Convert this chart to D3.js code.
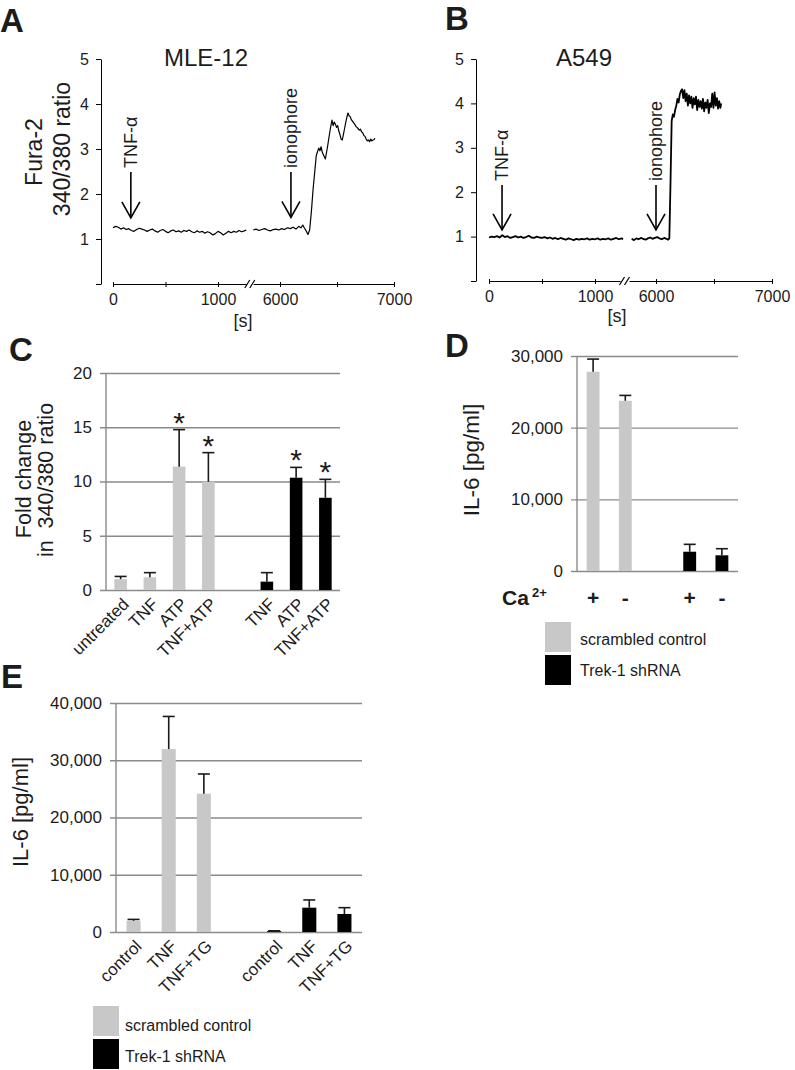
<!DOCTYPE html>
<html><head><meta charset="utf-8">
<script src="https://cdn.jsdelivr.net/npm/d3@7"></script>
<style>
body{margin:0;background:#fff}
svg{display:block;font-family:"Liberation Sans",Arial,Helvetica,sans-serif}
text{fill:#1c1c1c}
</style></head><body>
<svg id="fig" width="795" height="1070"></svg>
<script>
// ---------- DATA ----------
// Panel A (MLE-12) Fura-2 ratio trace: [time s, ratio]
const traceA1 = [[0,1.25],[25,1.28],[50,1.26],[75,1.22],[100,1.25],[125,1.21],[150,1.23],[175,1.19],[200,1.17],[225,1.21],[250,1.24],[275,1.22],[300,1.2],[325,1.17],[350,1.2],[375,1.22],[400,1.18],[425,1.15],[450,1.19],[475,1.21],[500,1.17],[525,1.14],[550,1.18],[575,1.2],[600,1.16],[625,1.18],[650,1.15],[675,1.19],[700,1.17],[725,1.2],[750,1.16],[775,1.14],[800,1.18],[825,1.15],[850,1.17],[875,1.13],[900,1.16],[925,1.14],[950,1.09],[975,1.12],[1000,1.17],[1025,1.14],[1050,1.09],[1075,1.13],[1100,1.17],[1125,1.14],[1150,1.17],[1175,1.15],[1200,1.19],[1225,1.16],[1250,1.18],[1270,1.2]];
const traceA2 = [[5765,1.2],[5790,1.22],[5815,1.19],[5840,1.21],[5865,1.23],[5890,1.2],[5915,1.18],[5940,1.21],[5965,1.22],[5990,1.2],[6015,1.23],[6040,1.21],[6065,1.25],[6090,1.23],[6115,1.26],[6140,1.22],[6165,1.28],[6185,1.25],[6200,1.31],[6215,1.24],[6230,1.18],[6245,1.1],[6260,1.2],[6275,1.6],[6290,2.1],[6305,2.5],[6318,2.85],[6330,2.95],[6340,3.02],[6350,2.96],[6360,3.05],[6372,2.92],[6385,2.85],[6398,2.78],[6410,2.95],[6420,3.1],[6432,3.3],[6445,3.5],[6456,3.64],[6466,3.52],[6476,3.6],[6486,3.55],[6496,3.48],[6506,3.52],[6516,3.4],[6526,3.32],[6536,3.22],[6546,3.2],[6556,3.32],[6566,3.45],[6576,3.58],[6586,3.7],[6596,3.8],[6606,3.74],[6616,3.72],[6626,3.65],[6636,3.62],[6646,3.58],[6656,3.55],[6666,3.5],[6676,3.48],[6686,3.45],[6696,3.42],[6706,3.44],[6716,3.38],[6726,3.36],[6736,3.3],[6746,3.28],[6756,3.22],[6766,3.18],[6776,3.2],[6786,3.16],[6796,3.22],[6806,3.18],[6816,3.2],[6826,3.21],[6833,3.24]];
// Panel B (A549)
const traceB1 = [[0,0.98],[25,1.0],[50,0.99],[75,1.01],[100,0.98],[125,1.03],[150,0.99],[175,1.01],[200,0.97],[225,0.99],[250,1.01],[275,0.98],[300,1.0],[325,0.97],[350,0.99],[375,1.02],[400,0.98],[425,0.97],[450,1.0],[475,0.98],[500,0.97],[525,0.99],[550,0.96],[575,0.98],[600,0.95],[625,0.97],[650,0.94],[675,0.97],[700,0.95],[725,0.93],[750,0.96],[775,0.94],[800,0.92],[825,0.95],[850,0.93],[875,0.95],[900,0.94],[925,0.96],[950,0.93],[975,0.95],[1000,0.94],[1025,0.96],[1050,0.93],[1075,0.95],[1100,0.94],[1125,0.96],[1150,0.93],[1175,0.95],[1200,0.97],[1225,0.94],[1250,0.96],[1265,0.94]];
const traceB2 = [[5790,0.95],[5810,0.92],[5830,0.96],[5850,0.94],[5870,0.97],[5890,0.95],[5910,0.93],[5930,0.96],[5950,0.98],[5970,0.95],[5990,0.97],[6010,0.99],[6030,0.96],[6050,0.94],[6070,0.97],[6090,0.95],[6105,0.93],[6115,0.96],[6125,2.2],[6135,3.6],[6145,3.75],[6155,3.7],[6165,3.85],[6175,3.95],[6185,4.1],[6195,4.02],[6205,4.2],[6215,4.28],[6225,4.32],[6235,4.12],[6245,4.3],[6255,4.05],[6265,4.22],[6275,3.95],[6285,4.18],[6295,4.0],[6305,4.15],[6315,3.9],[6325,4.12],[6335,3.98],[6345,4.15],[6355,3.85],[6365,4.08],[6375,3.92],[6385,4.05],[6395,3.88],[6405,4.1],[6415,3.82],[6425,4.02],[6435,3.9],[6445,4.08],[6455,3.78],[6465,4.0],[6475,3.92],[6485,4.22],[6495,3.9],[6505,4.25],[6515,3.95],[6525,4.12],[6535,3.88],[6545,4.05],[6555,3.9],[6562,4.0]];
const traceYTicks = [0,1,2,3,4,5];
const traceXTicksLeft = [0,500,1000];
const traceXTicksRight = [6000,6500,7000];
const traceXLabelled = [0,1000,6000,7000];
const annotA = [{label:"TNF-α", t:170, tip:1.47, top:2.49},{label:"ionophore", t:6096, tip:1.48, top:2.49}];
const annotB = [{label:"TNF-α", t:123, tip:1.15, top:2.16},{label:"ionophore", t:6000, tip:1.15, top:2.16}];

// Panel C
const cCategories = ["untreated","TNF","ATP","TNF+ATP","TNF","ATP","TNF+ATP"];
const cGroup      = ["scr","scr","scr","scr","trek","trek","trek"];
const cValues     = [1.0, 1.17, 11.37, 9.98, 0.77, 10.35, 8.5];
const cErrors     = [0.25, 0.43, 3.41, 2.68, 0.83, 0.95, 1.7];
const cSignif     = [false,false,true,true,false,true,true];
const cTicks = [0,5,10,15,20];

// Panel D
const dCa     = ["+","-","+","-"];
const dGroup  = ["scr","scr","trek","trek"];
const dValues = [27800, 23750, 2690, 2190];
const dErrors = [1770, 750, 1030, 920];
const dTicks = [0,10000,20000,30000];

// Panel E
const eCategories = ["control","TNF","TNF+TG","control","TNF","TNF+TG"];
const eGroup  = ["scr","scr","scr","trek","trek","trek"];
const eValues = [1950, 31950, 24150, 150, 4250, 3150];
const eErrors = [250, 5700, 3450, 60, 1350, 1100];
const eTicks = [0,10000,20000,30000,40000];

const legendLabels = ["scrambled control","Trek-1 shRNA"];

// ---------- DRAW ----------
const svg = d3.select("#fig");
svg.append("rect").attr("width",795).attr("height",1070).attr("fill","#fff");
const fill = {scr:"#c8c8c8", trek:"#000"};
const gridCol = "#8a8a8a";

function panelLetter(t,x,y){
  svg.append("text").attr("x",x).attr("y",y).attr("font-size",33).attr("font-weight","bold").attr("fill","#000").text(t);
}

function tracePanel(o){
  const g = svg.append("g");
  const y = d3.scaleLinear().domain([0,5]).range([o.yb,o.yt]);
  const x1 = d3.scaleLinear().domain([0,1000]).range(o.x1r);
  const x2 = d3.scaleLinear().domain([6000,7000]).range(o.x2r);
  const xt = t => t < 3000 ? x1(t) : x2(t);

  const ya = g.append("g").attr("transform",`translate(${o.yax},0)`)
    .call(d3.axisLeft(y).tickValues(traceYTicks).tickSize(5).tickSizeOuter(0).tickPadding(7).tickFormat(d=>d===0?"":d));
  ya.selectAll("text").attr("font-size",16).attr("font-family",null).attr("fill","#1c1c1c");
  ya.selectAll("path,line").attr("stroke","#000");

  const s1 = x1.copy().domain([0,o.brk1]).range([x1(0),x1(o.brk1)]);
  const s2 = x2.copy().domain([o.brk2,7000]).range([x2(o.brk2),x2(7000)]);
  [[s1,traceXTicksLeft],[s2,traceXTicksRight]].forEach(([s,tv])=>{
    const ax = g.append("g").attr("transform",`translate(0,${o.xay})`)
      .call(d3.axisBottom(s).tickValues(tv).tickSize(3).tickSizeOuter(0).tickPadding(7)
        .tickFormat(d=>traceXLabelled.includes(d)?d:""));
    ax.selectAll(".tick line").attr("y1",-2).attr("stroke","#000");
    ax.selectAll("path").attr("stroke","#000");
    ax.selectAll("text").attr("font-size",16).attr("font-family",null).attr("fill","#1c1c1c");
  });
  const bx = (x1(o.brk1)+x2(o.brk2))/2;
  [-2.5,2.5].forEach(dx=>{
    g.append("line").attr("x1",bx+dx-2.5).attr("y1",o.xay+4).attr("x2",bx+dx+2.5).attr("y2",o.xay-4)
      .attr("stroke","#000").attr("stroke-width",1.2);
  });
  const line = d3.line().x(d=>xt(d[0])).y(d=>y(d[1]));
  [o.seg1,o.seg2].forEach(seg=>{
    g.append("path").datum(seg).attr("d",line).attr("fill","none").attr("stroke","#000")
      .attr("stroke-width",o.lw).attr("stroke-linejoin","round");
  });
  o.annot.forEach(a=>{
    const X = xt(a.t), yt = y(a.tip), ytop = y(a.top);
    g.append("line").attr("x1",X).attr("x2",X).attr("y1",ytop).attr("y2",yt).attr("stroke","#000").attr("stroke-width",1.6);
    g.append("path").attr("d",`M${X-9},${yt-16}L${X},${yt}L${X+9},${yt-16}`).attr("fill","none").attr("stroke","#000").attr("stroke-width",1.6);
    g.append("g").attr("transform",`translate(${X},${ytop-4})`)
      .append("text").attr("transform","rotate(-90)").attr("dy","0.35em")
      .attr("font-size",18).text(a.label);
  });
  g.append("text").attr("x",o.titleX).attr("y",66).attr("text-anchor","middle").attr("font-size",24).text(o.title);
  g.append("text").attr("x",o.sX).attr("y",o.sY).attr("text-anchor","middle").attr("font-size",18).text("[s]");
}

tracePanel({yb:284,yt:59,x1r:[113,218],x2r:[280,394],yax:101,xay:284,brk1:1270,brk2:5765,
  seg1:traceA1,seg2:traceA2,annot:annotA,lw:1.2,title:"MLE-12",titleX:206,sX:243,sY:327});
tracePanel({yb:281,yt:59,x1r:[489,595],x2r:[656,772],yax:476,xay:281,brk1:1236,brk2:5767,
  seg1:traceB1,seg2:traceB2,annot:annotB,lw:1.8,title:"A549",titleX:584,sX:617,sY:322});

function rotLabel(x,y,txt,size,extra){
  const t = svg.append("g").attr("transform",`translate(${x},${y})`)
    .append("text").attr("transform","rotate(-90)").attr("text-anchor","middle").attr("font-size",size).text(txt);
  if(extra) t.attr("xml:space","preserve");
  return t;
}
// A y-axis title
rotLabel(42,152,"Fura-2",23);
rotLabel(70,149,"340/380 ratio",23);

function barPanel(o){
  const g = svg.append("g");
  const y = d3.scaleLinear().domain([0,o.ymax]).range([o.yb,o.yt]);
  const x = d3.scaleBand().domain(d3.range(o.nSlots)).range([o.xl,o.xr]).paddingInner(o.pad).paddingOuter(o.pad/2);
  const w = o.xr - o.xl;
  const ga = g.append("g").attr("transform",`translate(${o.xr},0)`)
    .call(d3.axisLeft(y).tickValues(o.ticks).tickSize(w+6).tickPadding(8).tickFormat(o.fmt));
  ga.select(".domain").remove();
  ga.selectAll("line").attr("stroke",gridCol).attr("stroke-width",1.4);
  ga.selectAll("text").attr("font-size",17).attr("font-family",null).attr("fill","#1c1c1c");
  g.append("line").attr("x1",o.xl).attr("x2",o.xl).attr("y1",o.yt).attr("y2",o.yb).attr("stroke",gridCol).attr("stroke-width",1.4);
  o.values.forEach((v,i)=>{
    const s = o.slotOf(i);
    const cx = x(s) + x.bandwidth()/2;
    g.append("rect").attr("x",x(s)).attr("width",x.bandwidth()).attr("y",y(v)).attr("height",o.yb-y(v)).attr("fill",fill[o.group[i]]);
    const ye = y(v+o.errors[i]);
    g.append("line").attr("x1",cx).attr("x2",cx).attr("y1",y(v)).attr("y2",ye).attr("stroke","#1a1a1a").attr("stroke-width",1.6);
    g.append("line").attr("x1",cx-6).attr("x2",cx+6).attr("y1",ye).attr("y2",ye).attr("stroke","#1a1a1a").attr("stroke-width",1.6);
    if(o.signif && o.signif[i]){
      g.append("text").attr("x",cx).attr("y",ye+3).attr("text-anchor","middle").attr("font-size",30).text("*");
    }
    if(o.labels){
      g.append("g").attr("transform",`translate(${cx+5},${o.yb+11})`)
        .append("text").attr("transform","rotate(-45)").attr("text-anchor","end")
        .attr("dy","0.35em").attr("font-size",17).text(o.labels[i]);
    }
    if(o.ca){
      g.append("text").attr("x",cx).attr("y",o.yb+34).attr("text-anchor","middle").attr("font-size",21)
        .attr("font-weight","bold").attr("fill","#000").text(o.ca[i]);
    }
  });
  return {x,y};
}

const fmtComma = d3.format(",");
barPanel({xl:106,xr:340,yt:373,yb:590,ymax:20,nSlots:8,pad:0.57,ticks:cTicks,fmt:d=>d,
  values:cValues,errors:cErrors,group:cGroup,signif:cSignif,labels:cCategories,slotOf:i=>i<4?i:i+1});
rotLabel(31,479,"Fold change",21.5);
rotLabel(53,480,"in  340/380 ratio",21.5,true);

barPanel({xl:577,xr:738,yt:356,yb:571,ymax:30000,nSlots:5,pad:0.6,ticks:dTicks,fmt:fmtComma,
  values:dValues,errors:dErrors,group:dGroup,ca:dCa,slotOf:i=>i<2?i:i+1});
rotLabel(479,460,"IL-6 [pg/ml]",22.5);
svg.append("text").attr("x",502).attr("y",605).attr("font-size",21).attr("font-weight","bold").attr("fill","#000").text("Ca");
svg.append("text").attr("x",532).attr("y",597).attr("font-size",13).attr("font-weight","bold").attr("fill","#000").text("2+");

barPanel({xl:116,xr:362,yt:703,yb:932,ymax:40000,nSlots:7,pad:0.6,ticks:eTicks,fmt:fmtComma,
  values:eValues,errors:eErrors,group:eGroup,labels:eCategories,slotOf:i=>i<3?i:i+1});
rotLabel(28,812,"IL-6 [pg/ml]",22);

function legend(x,y,tx,ty){
  ["scr","trek"].forEach((k,i)=>{
    svg.append("rect").attr("x",x).attr("y",y[i]).attr("width",26).attr("height",30).attr("fill",fill[k]);
    svg.append("text").attr("x",tx).attr("y",ty[i]).attr("font-size",16).text(legendLabels[i]);
  });
}
legend(545,[622,655],580,[645,676]);
legend(93,[1006,1039],125,[1031,1062]);

panelLetter("A",0,32);
panelLetter("B",445,30);
panelLetter("C",9,361);
panelLetter("D",445,357);
panelLetter("E",1,688);
</script>
</body></html>
